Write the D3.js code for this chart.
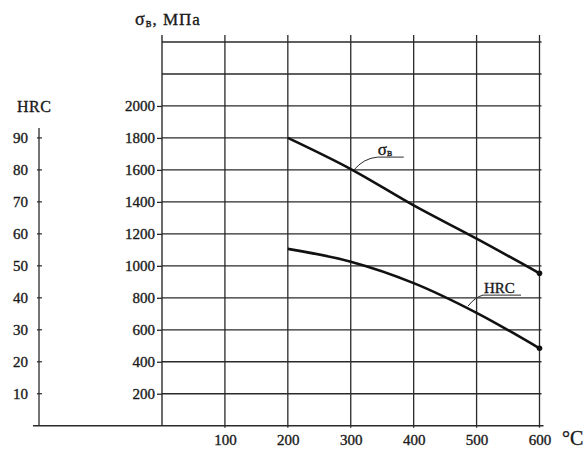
<!DOCTYPE html>
<html><head><meta charset="utf-8">
<script src="https://cdn.jsdelivr.net/npm/d3@7"></script>
<style>
html,body{margin:0;padding:0;background:#fff;}
svg{display:block;}
text{font-family:"Liberation Serif","DejaVu Serif",serif;fill:#1a1a1a;stroke:#1a1a1a;stroke-width:0.35px;}
</style></head>
<body>
<svg id="chart" width="585" height="450"></svg>
<script>
// ---- data ----
const temps = [200, 300, 400, 500, 600];            // °C
const sigmaB = [1800, 1605, 1378, 1170, 953];        // σв, МПа
const hrc = [55.3, 51.3, 44.6, 35.3, 24.2];          // HRC
const tempTicks = [100, 200, 300, 400, 500, 600];
const sigmaTicks = [200, 400, 600, 800, 1000, 1200, 1400, 1600, 1800, 2000];
const sigmaGrid = [200, 400, 600, 800, 1000, 1200, 1400, 1600, 1800, 2000, 2200, 2400];
const hrcTicks = [10, 20, 30, 40, 50, 60, 70, 80, 90];

const svg = d3.select("#chart");
const x = d3.scaleLinear().domain([0, 600]).range([162, 539.5]);
const y = d3.scaleLinear().domain([0, 2400]).range([425.7, 42]);
const yH = d3.scaleLinear().domain([0, 100]).range([y(0), y(2000)]);
const hrcAxisX = 39;
const ink = "#2a2a2a";

// horizontal grid lines
svg.append("g").selectAll("line").data(sigmaGrid).join("line")
  .attr("x1", x(0)).attr("x2", x(600) + 2)
  .attr("y1", d => y(d)).attr("y2", d => y(d))
  .attr("stroke", ink).attr("stroke-width", 1.3);

// vertical grid lines
svg.append("g").selectAll("line").data(tempTicks).join("line")
  .attr("x1", d => x(d)).attr("x2", d => x(d))
  .attr("y1", y(2400) - 7).attr("y2", y(0) + 2)
  .attr("stroke", ink).attr("stroke-width", 1.3);

// sigma axis (left of plot)
const sAxis = d3.axisLeft(y).tickValues(sigmaTicks).tickSize(5).tickPadding(2)
  .tickFormat(d3.format("d"));
const sg = svg.append("g").attr("transform", `translate(${x(0)},0)`).call(sAxis);
sg.select(".domain").remove();
sg.selectAll(".tick line").attr("stroke", ink).attr("stroke-width", 1.3);
sg.selectAll(".tick text").attr("font-size", 15).attr("font-family", "Liberation Serif").attr("fill", "#1a1a1a");
svg.append("line").attr("x1", x(0)).attr("x2", x(0))
  .attr("y1", y(2400) - 7).attr("y2", y(0))
  .attr("stroke", ink).attr("stroke-width", 1.4);

// bottom axis
svg.append("line").attr("x1", 33).attr("x2", x(600) + 4)
  .attr("y1", y(0)).attr("y2", y(0)).attr("stroke", ink).attr("stroke-width", 1.4);
const xAxis = d3.axisBottom(x).tickValues(tempTicks).tickSize(0).tickPadding(9);
const xg = svg.append("g").attr("transform", `translate(0,${y(0)})`).call(xAxis);
xg.select(".domain").remove();
xg.selectAll(".tick text").attr("font-size", 15).attr("font-family", "Liberation Serif").attr("fill", "#1a1a1a");
svg.append("text").attr("x", 562).attr("y", 445).attr("font-size", 20).text("°C");

// HRC axis
svg.append("line").attr("x1", hrcAxisX).attr("x2", hrcAxisX)
  .attr("y1", 128).attr("y2", y(0)).attr("stroke", ink).attr("stroke-width", 1.3);
const hAxis = d3.axisLeft(yH).tickValues(hrcTicks).tickSize(0).tickPadding(11);
const hg = svg.append("g").attr("transform", `translate(${hrcAxisX},0)`).call(hAxis);
hg.select(".domain").remove();
hg.selectAll(".tick text").attr("font-size", 15).attr("font-family", "Liberation Serif").attr("fill", "#1a1a1a");
svg.append("g").selectAll("line").data(hrcTicks).join("line")
  .attr("x1", hrcAxisX - 2).attr("x2", hrcAxisX + 3)
  .attr("y1", d => yH(d)).attr("y2", d => yH(d))
  .attr("stroke", ink).attr("stroke-width", 1.2);

// axis titles
svg.append("text").attr("x", 17).attr("y", 112).attr("font-size", 16).attr("letter-spacing", 0.5).text("HRC");
const title = svg.append("text").attr("x", 135).attr("y", 25).attr("font-size", 17).attr("letter-spacing", 1);
title.append("tspan").attr("font-size", 18).text("σ");
title.append("tspan").attr("font-size", 12).attr("dy", 2).text("в");
title.append("tspan").attr("dy", -2).text(", МПа");

// curves
const line = d3.line().curve(d3.curveMonotoneX);
const sPts = temps.map((t, i) => [x(t), y(sigmaB[i])]);
const hPts = temps.map((t, i) => [x(t), yH(hrc[i])]);
svg.append("path").attr("d", line(sPts)).attr("fill", "none")
  .attr("stroke", "#111").attr("stroke-width", 2.6);
svg.append("path").attr("d", line(hPts)).attr("fill", "none")
  .attr("stroke", "#111").attr("stroke-width", 2.6);
svg.append("circle").attr("cx", x(600)).attr("cy", y(sigmaB[4])).attr("r", 2.8).attr("fill", "#111");
svg.append("circle").attr("cx", x(600)).attr("cy", yH(hrc[4])).attr("r", 2.8).attr("fill", "#111");

// σв label with leader
const sx = x(300) + 3, sy = y(sigmaB[1]) + 1;
svg.append("path")
  .attr("d", `M${sx},${sy} Q${sx + 10},${sy - 12} ${sx + 24},${sy - 13} L${sx + 50},${sy - 13}`)
  .attr("fill", "none").attr("stroke", ink).attr("stroke-width", 1);
const sl = svg.append("text").attr("x", sx + 24).attr("y", sy - 15).attr("font-size", 17);
sl.append("tspan").text("σ");
sl.append("tspan").attr("font-size", 11).attr("dy", 1).text("в");

// HRC label with leader
const hx = 468, hy = yH(37.4);
svg.append("path")
  .attr("d", `M${hx},${hy} Q${hx + 7},${hy - 9} ${hx + 15},${hy - 11} L${hx + 53},${hy - 11}`)
  .attr("fill", "none").attr("stroke", ink).attr("stroke-width", 1);
svg.append("text").attr("x", hx + 16).attr("y", hy - 13).attr("font-size", 15).text("HRC");
</script>
</body></html>
